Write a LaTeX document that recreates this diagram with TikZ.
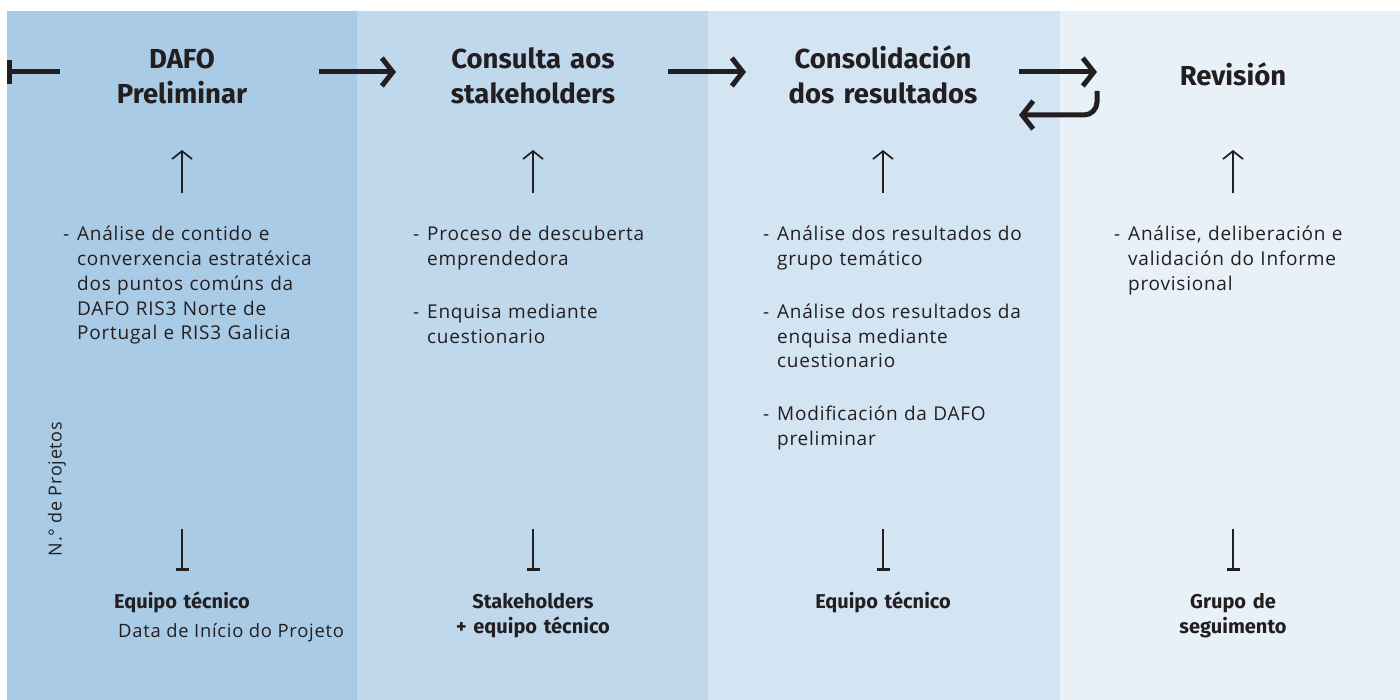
\documentclass[tikz,border=0pt]{standalone}
\usepackage{fontspec}
\setmainfont{Fira Sans}
\newfontfamily\bodyfont[LetterSpace=4]{Open Sans}
\usetikzlibrary{arrows.meta}
\definecolor{cA}{RGB}{169,203,230}
\definecolor{cB}{RGB}{191,216,236}
\definecolor{cC}{RGB}{211,228,243}
\definecolor{cD}{RGB}{232,240,248}
\definecolor{ink}{RGB}{35,31,32}
\newlength{\dw}\setlength{\dw}{14pt}
\newcommand{\dsh}{\makebox[\dw][l]{-}}
\newcommand{\ind}{\hspace*{\dw}}
\begin{document}
\begin{tikzpicture}[x=1pt,y=-1pt,
  ttl/.style={font=\fontsize{27.5}{35}\selectfont\bfseries, text=ink, align=center, inner sep=0pt, text width=300pt, anchor=base},
  bodytxt/.style={font=\bodyfont\fontsize{19}{24.7}\selectfont, text=ink, align=left, inner sep=0pt, text width=320pt, anchor=base west},
  who/.style={font=\fontsize{20}{25.5}\selectfont\bfseries, text=ink, align=center, inner sep=0pt, text width=300pt, anchor=base},
  bigarrow/.style={line width=5pt, draw=ink, -{Straight Barb[length=11pt,width=28pt]}},
  uparrow/.style={line width=1.7pt, draw=ink, -{Straight Barb[length=8pt,width=20pt]}},
  stemline/.style={line width=1.7pt, draw=ink, -{Bar[width=13pt,line width=3pt]}},
]
\useasboundingbox (0,0) rectangle (1400,700);
\fill[white] (0,0) rectangle (1400,700);
\fill[cA] (7,11) rectangle (357,700);
\fill[cB] (357,11) rectangle (708,700);
\fill[cC] (708,11) rectangle (1060,700);
\fill[cD] (1060,11) rectangle (1400,700);

% titles
\node[ttl] (t1) at (182,69) {DAFO\\Preliminar};
\node[ttl] (t2) at (533,69) {Consulta aos\\stakeholders};
\node[ttl] (t3) at (883,69) {Consolidación\\dos resultados};
\node[ttl] (t4) at (1233,86) {Revisión};

% big arrows
\coordinate (s0) at (60,72);   \coordinate (e0) at (7,72);
\coordinate (s1) at (319,72);  \coordinate (e1) at (396,72);
\coordinate (s2) at (668,72);  \coordinate (e2) at (746,72);
\coordinate (s3) at (1019,72); \coordinate (e3) at (1097,72);
\coordinate (r3s) at (1097,91); \coordinate (r3c) at (1097,115); \coordinate (r3e) at (1019,115);
\draw[line width=5pt, draw=ink, -{Bar[width=24pt]}] (s0) -- (e0);
\draw[bigarrow] (s1) -- (e1);
\draw[bigarrow] (s2) -- (e2);
\draw[bigarrow] (s3) -- (e3);
\draw[bigarrow, rounded corners=13pt] (r3s) -- (r3c) -- (r3e);

% up arrows and stems
\foreach \i/\x in {1/182,2/533,3/883,4/1233}{
  \coordinate (u\i s) at (\x,193); \coordinate (u\i e) at (\x,150);
  \coordinate (b\i s) at (\x,529); \coordinate (b\i e) at (\x,571);
  \draw[uparrow] (u\i s) -- (u\i e);
  \draw[stemline] (b\i s) -- (b\i e);
}

% body texts
\node[bodytxt] (d1) at (63,241) {\dsh Análise de contido e\\\ind converxencia estratéxica\\\ind dos puntos comúns da\\\ind DAFO RIS3 Norte de\\\ind Portugal e RIS3 Galicia};
\node[bodytxt] (d2) at (413,241) {\dsh Proceso de descuberta\\\ind emprendedora\\[28pt]\dsh Enquisa mediante\\\ind cuestionario};
\node[bodytxt] (d3) at (763,241) {\dsh Análise dos resultados do\\\ind grupo temático\\[28pt]\dsh Análise dos resultados da\\\ind enquisa mediante\\\ind cuestionario\\[28pt]\dsh Modificación da DAFO\\\ind preliminar};
\node[bodytxt] (d4) at (1114,241) {\dsh Análise, deliberación e\\\ind validación do Informe\\\ind provisional};

% bottom labels
\node[who] (w1) at (182,608) {Equipo técnico};
\node[font=\bodyfont\fontsize{18.4}{25}\selectfont, text=ink, inner sep=0pt, anchor=base west] (w1b) at (118,637) {Data de Início do Projeto};
\node[who] (w2) at (533,608) {Stakeholders\\+ equipo técnico};
\node[who] (w3) at (883,608) {Equipo técnico};
\node[who] (w4) at (1233,608) {Grupo de\\seguimento};

% axis label
\node[font=\bodyfont\fontsize{18}{20}\selectfont, text=ink, rotate=90, inner sep=0pt] (ax) at (57,489) {N.° de Projetos};
\end{tikzpicture}
\end{document}
